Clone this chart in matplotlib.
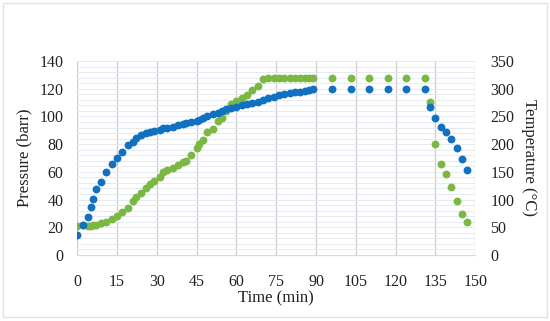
import matplotlib
matplotlib.use("Agg")
import matplotlib.pyplot as plt
from matplotlib.patches import Rectangle
from matplotlib.ticker import MultipleLocator

# values
time_min = [0, 2, 4, 5, 6, 7, 9, 11, 13, 15, 17, 19, 21, 22, 24, 26, 27.5, 29,
            31, 32.5, 34, 36, 38, 40, 41, 43, 45, 46, 47.5, 49, 51, 53, 54.5,
            56, 58, 60, 62, 64, 66, 68, 70, 72, 74, 76, 78, 80, 82, 84, 86,
            87.5, 89, 96, 103, 110, 117, 124, 131, 133, 135, 137, 139, 141,
            143, 145, 147]
pressure_barr = [14.4, 21.6, 27.5, 34.8, 40.2, 47.4, 52.9, 60.1, 65.7, 69.8,
                 74.5, 79.4, 81.7, 84.2, 86.6, 88.2, 89.0, 89.7, 90.2, 91.5,
                 92.0, 92.6, 93.8, 94.5, 95.0, 95.7, 96.5, 97.4, 99.1, 100.3,
                 101.5, 102.7, 104.1, 105.1, 106.3, 107.0, 108.0, 108.8, 109.9,
                 110.6, 111.8, 113.0, 114.2, 115.4, 115.9, 116.7, 117.4, 117.8,
                 118.5, 119.0, 120.0, 120, 120, 120, 120, 120, 120, 107.0, 98.6,
                 92.6, 89.0, 83.5, 77.0, 69.0, 61.3]
temperature_c = [52.3, 54, 52.3, 53, 54, 55, 57.5, 60, 64.5, 69.5, 77, 85, 97,
                 104, 112, 120, 127.5, 133, 140.5, 150, 153, 156.5, 162, 168,
                 170, 180, 193, 200, 208, 222, 228, 242, 248, 260, 273, 278,
                 283, 289, 298, 304, 318, 320, 320, 320, 320, 320, 320, 320,
                 320, 320, 320, 320, 320, 320, 320, 320, 320, 276.7, 200.4,
                 163.7, 145.7, 123.3, 97.5, 73.5, 60.2]

BLUE = "#1170c0"
GREEN = "#7ab843"
FONT = "Liberation Serif"
TXT = "#222222"

fig = plt.figure(figsize=(5.5, 3.21), dpi=100)
fig.add_artist(Rectangle((0.006, 0.012), 0.988, 0.978, transform=fig.transFigure,
                         fill=False, edgecolor="#dbe4ec", linewidth=1.0))

ax = fig.add_axes([0.1405, 0.2056, 0.7235, 0.6044])
ax2 = ax.twinx()
# blue series sits above the green one, grid goes on the lower axes
ax.set_zorder(2)
ax2.set_zorder(1)
ax.patch.set_visible(False)
ax2.patch.set_visible(True)
ax2.patch.set_facecolor("white")

ax.set_xlim(0, 150)
ax.set_ylim(0, 140)
ax2.set_ylim(0, 350)
ax.xaxis.set_major_locator(MultipleLocator(15))
ax.yaxis.set_major_locator(MultipleLocator(20))
ax2.yaxis.set_major_locator(MultipleLocator(50))
ax2.yaxis.set_minor_locator(MultipleLocator(10))

ax2.xaxis.set_visible(True)
ax2.tick_params(axis="x", which="both", labelbottom=False, bottom=False)
ax2.grid(axis="x", which="major", color="#cccccc", linewidth=0.9)
ax2.grid(axis="y", which="both", color="#e4eaf0", linewidth=0.7)
ax2.set_axisbelow(True)

ax2.scatter(time_min, temperature_c, s=32, color=GREEN, linewidths=0, zorder=3)
ax.scatter(time_min, pressure_barr, s=32, color=BLUE, linewidths=0, zorder=3)

for a in (ax, ax2):
    for side in ("top", "left", "right"):
        a.spines[side].set_visible(False)
    a.spines["bottom"].set_color("#d9d9d9")
ax.tick_params(axis="x", length=0, labelsize=11.5, pad=14)
ax.tick_params(axis="y", length=0, labelsize=11.5, pad=10)
ax2.tick_params(axis="y", which="both", length=0, labelsize=11.5, pad=11)
for lab in ax.get_xticklabels() + ax.get_yticklabels() + ax2.get_yticklabels():
    lab.set_fontfamily(FONT)
    lab.set_color(TXT)

ax.set_xlabel("Time (min)", fontfamily=FONT, fontsize=12, labelpad=0, color=TXT)
ax.set_ylabel("Pressure (barr)", fontfamily=FONT, fontsize=12, labelpad=5, color=TXT)
ax2.set_ylabel("Temperature (°C)", fontfamily=FONT, fontsize=12, rotation=270,
               labelpad=16, color=TXT)

fig.savefig("out.png", dpi=100)
